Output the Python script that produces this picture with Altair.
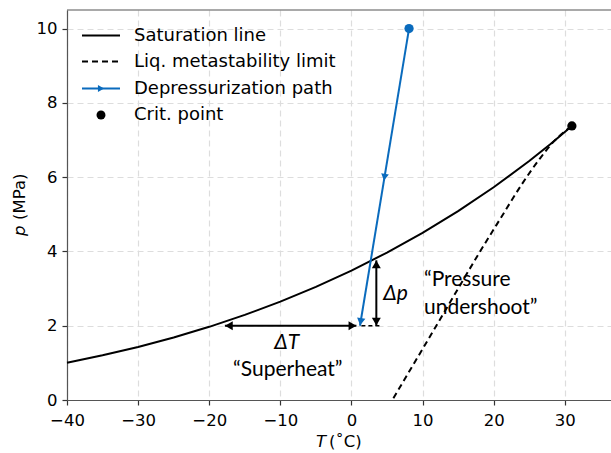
import altair as alt
import pandas as pd

# CO2 saturation curve (T in degC, p in MPa)
sat_T = [-40, -35, -30, -25, -20, -15, -10, -5, 0, 5, 10, 15, 20, 25, 28, 30, 31.0]
sat_p = [1.005, 1.204, 1.428, 1.683, 1.970, 2.291, 2.649, 3.046, 3.485, 3.969,
         4.502, 5.086, 5.729, 6.434, 6.893, 7.214, 7.38]

# liquid spinodal (metastability limit)
spin_T = [5.9, 9.0, 12.0, 15.0, 18.0, 21.0, 24.0, 26.5, 28.5, 30.0, 31.0]
spin_p = [0.05, 1.05, 2.02, 3.0, 3.97, 4.9, 5.82, 6.5, 6.97, 7.23, 7.38]

# depressurization path: start -> end
path_T = [8.1, 1.2]
path_p = [10.0, 2.0]

crit_T = [31.0]
crit_p = [7.38]

# superheat (dT) and pressure undershoot (dp) indicators
dT_T = [-17.8, 0.7]
dT_p = 2.0
dp_T = 3.5
dp_p = [2.0, 3.76]
helper_T = [1.4, 4.3]

BLUE = "#0a6bbd"
ANN_FONT = "Lato"
LF = "DejaVu Sans"

xs = alt.Scale(domain=[-40, 36.5], nice=False, zero=False)
ys = alt.Scale(domain=[0, 10.5], nice=False, zero=False)

X = lambda f: alt.X(f, type="quantitative", scale=xs,
                    axis=alt.Axis(values=[-40, -30, -20, -10, 0, 10, 20, 30], title=None,
                                  labelFlush=False,
                                  labelExpr="replace(datum.label, '-', '\u2212')"))
Y = lambda f: alt.Y(f, type="quantitative", scale=ys,
                    axis=alt.Axis(values=[0, 2, 4, 6, 8, 10], title=None, labelFlush=False))

sat = pd.DataFrame({"T": sat_T, "p": sat_p})
spin = pd.DataFrame({"T": spin_T, "p": spin_p})
path = pd.DataFrame({"T": path_T, "p": path_p})
crit = pd.DataFrame({"T": crit_T, "p": crit_p})

# single-row source for decorations placed in pixel space
one = alt.Chart(pd.DataFrame({"k": [0]}))

sat_line = alt.Chart(sat).mark_line(color="black", strokeWidth=2).encode(x=X("T"), y=Y("p"), order="T:Q")
spin_line = alt.Chart(spin).mark_line(color="black", strokeWidth=2, strokeDash=[6, 4],
                                      interpolate="monotone").encode(x=X("T"), y=Y("p"), order="T:Q")
path_line = alt.Chart(path).mark_line(color=BLUE, strokeWidth=2).encode(x=X("T"), y=Y("p"))
start_pt = alt.Chart(path.iloc[[0]]).mark_point(filled=True, color=BLUE, size=85, opacity=1).encode(
    x=X("T"), y=Y("p"))

# arrowheads along the path: midpoint and end
mid = pd.DataFrame({"T": [(path_T[0] + path_T[1]) / 2], "p": [(path_p[0] + path_p[1]) / 2]})
mid_arrow = alt.Chart(mid).mark_point(shape="triangle-down", filled=True, color=BLUE, size=60,
                                      opacity=1, angle=9).encode(x=X("T"), y=Y("p"))
end_arrow = alt.Chart(path.iloc[[1]]).mark_point(shape="triangle-down", filled=True, color=BLUE,
                                                 size=70, opacity=1, angle=9, xOffset=0.7,
                                                 yOffset=-4).encode(x=X("T"), y=Y("p"))

crit_pt = alt.Chart(crit).mark_point(filled=True, color="black", size=85, opacity=1).encode(
    x=X("T"), y=Y("p"))

# dT double arrow
dT_df = pd.DataFrame({"T": [dT_T[0]], "T2": [dT_T[1]], "p": [dT_p]})
dT_rule = alt.Chart(dT_df).mark_rule(color="black", strokeWidth=2).encode(
    x=X("T"), x2="T2:Q", y=Y("p"))
dT_left = alt.Chart(dT_df).mark_point(shape="triangle-left", filled=True, color="black", size=80,
                                      opacity=1, xOffset=4).encode(x=X("T"), y=Y("p"))
dT_right = alt.Chart(dT_df).mark_point(shape="triangle-right", filled=True, color="black", size=80,
                                       opacity=1, xOffset=-4).encode(x=alt.X("T2:Q", scale=xs), y=Y("p"))

# dp double arrow
dp_df = pd.DataFrame({"T": [dp_T], "p": [dp_p[0]], "p2": [dp_p[1]]})
dp_rule = alt.Chart(dp_df).mark_rule(color="black", strokeWidth=2).encode(
    x=X("T"), y=Y("p"), y2="p2:Q")
dp_low = alt.Chart(dp_df).mark_point(shape="triangle-down", filled=True, color="black", size=80,
                                     opacity=1, yOffset=-4).encode(x=X("T"), y=Y("p"))
dp_high = alt.Chart(dp_df).mark_point(shape="triangle-up", filled=True, color="black", size=80,
                                      opacity=1, yOffset=4).encode(x=X("T"), y=alt.Y("p2:Q", scale=ys))

helper_df = pd.DataFrame({"T": [helper_T[0]], "T2": [helper_T[1]], "p": [dT_p]})
helper = alt.Chart(helper_df).mark_rule(color="black", strokeWidth=1.5, strokeDash=[4, 3]).encode(
    x=X("T"), x2="T2:Q", y=Y("p"))

# annotation labels
italic_lab = pd.DataFrame({"T": [-9.1, 6.2], "p": [1.54, 2.85], "txt": ["\u0394T", "\u0394p"]})
italic_text = alt.Chart(italic_lab).mark_text(font=ANN_FONT, fontSize=21, fontStyle="italic",
                                              color="black", align="center", baseline="middle").encode(
    x=X("T"), y=Y("p"), text="txt:N")

sh_lab = pd.DataFrame({"T": [-8.95], "p": [0.81], "txt": ["\u201cSuperheat\u201d"]})
sh_text = alt.Chart(sh_lab).mark_text(font=ANN_FONT, fontSize=21, color="black", align="center",
                                      baseline="middle").encode(
    x=X("T"), y=Y("p"), text="txt:N")

under = pd.DataFrame({"T": [10.2, 10.2], "p": [3.23, 2.49],
                      "txt": ["\u201cPressure", "undershoot\u201d"]})
under_text = alt.Chart(under).mark_text(font=ANN_FONT, fontSize=21, color="black", align="left",
                                        baseline="middle").encode(
    x=X("T"), y=Y("p"), text="txt:N")

# top frame line
top = one.mark_rule(color="#555555", strokeWidth=1.2).encode(
    x=alt.value(0), x2=alt.value(544), y=alt.value(0))

# axis titles
xt1 = one.mark_text(font=LF, fontSize=16.5, fontStyle="italic", align="left", baseline="middle").encode(
    x=alt.value(249), y=alt.value(432), text=alt.value("T"))
xt2 = one.mark_text(font=LF, fontSize=16.5, align="left", baseline="middle").encode(
    x=alt.value(262), y=alt.value(432), text=alt.value("(\u02daC)"))
yt1 = one.mark_text(font=LF, fontSize=16.5, fontStyle="italic", align="left", baseline="middle",
                    angle=270).encode(x=alt.value(-47), y=alt.value(226), text=alt.value("p"))
yt2 = one.mark_text(font=LF, fontSize=16.5, align="left", baseline="middle", angle=270).encode(
    x=alt.value(-47), y=alt.value(210), text=alt.value("(MPa)"))

# legend
leg_rows = [25.5, 51.5, 78.5, 105]
leg_labels = ["Saturation line", "Liq. metastability limit", "Depressurization path", "Crit. point"]
legend = [
    one.mark_rule(color="black", strokeWidth=2).encode(
        x=alt.value(15), x2=alt.value(53), y=alt.value(leg_rows[0])),
    one.mark_rule(color="black", strokeWidth=2, strokeDash=[6, 4]).encode(
        x=alt.value(15), x2=alt.value(53), y=alt.value(leg_rows[1])),
    one.mark_rule(color=BLUE, strokeWidth=2).encode(
        x=alt.value(15), x2=alt.value(53), y=alt.value(leg_rows[2])),
    one.mark_point(shape="triangle-right", filled=True, color=BLUE, size=50, opacity=1).encode(
        x=alt.value(34), y=alt.value(leg_rows[2])),
    one.mark_point(filled=True, color="black", size=80, opacity=1).encode(
        x=alt.value(34), y=alt.value(leg_rows[3])),
]
for r, lab in zip(leg_rows, leg_labels):
    legend.append(one.mark_text(font=LF, fontSize=18, align="left", baseline="middle",
                                color="black").encode(
        x=alt.value(67), y=alt.value(r), text=alt.value(lab)))

chart = alt.layer(
    sat_line, spin_line, helper, dT_rule, dT_left, dT_right, dp_rule, dp_low, dp_high,
    path_line, start_pt, mid_arrow, end_arrow, crit_pt,
    italic_text, sh_text, under_text, top, xt1, xt2, yt1, yt2, *legend
).properties(
    width=544, height=390,
    autosize=alt.AutoSizeParams(type="none"),
    padding={"left": 67, "top": 10, "right": 0, "bottom": 53},
    background="white",
).configure_view(stroke=None).configure_axis(
    labelFont=LF, labelFontSize=16.5, labelColor="black",
    tickColor="#333333", tickSize=5, tickWidth=1.2,
    domainColor="#555555", domainWidth=1.2,
    gridColor="#dddddd", gridDash=[6, 4], gridWidth=1.2,
).configure_axisX(labelPadding=7).configure_axisY(labelPadding=5)

chart.save("out.html", embed_options={"renderer": "svg", "actions": False})
